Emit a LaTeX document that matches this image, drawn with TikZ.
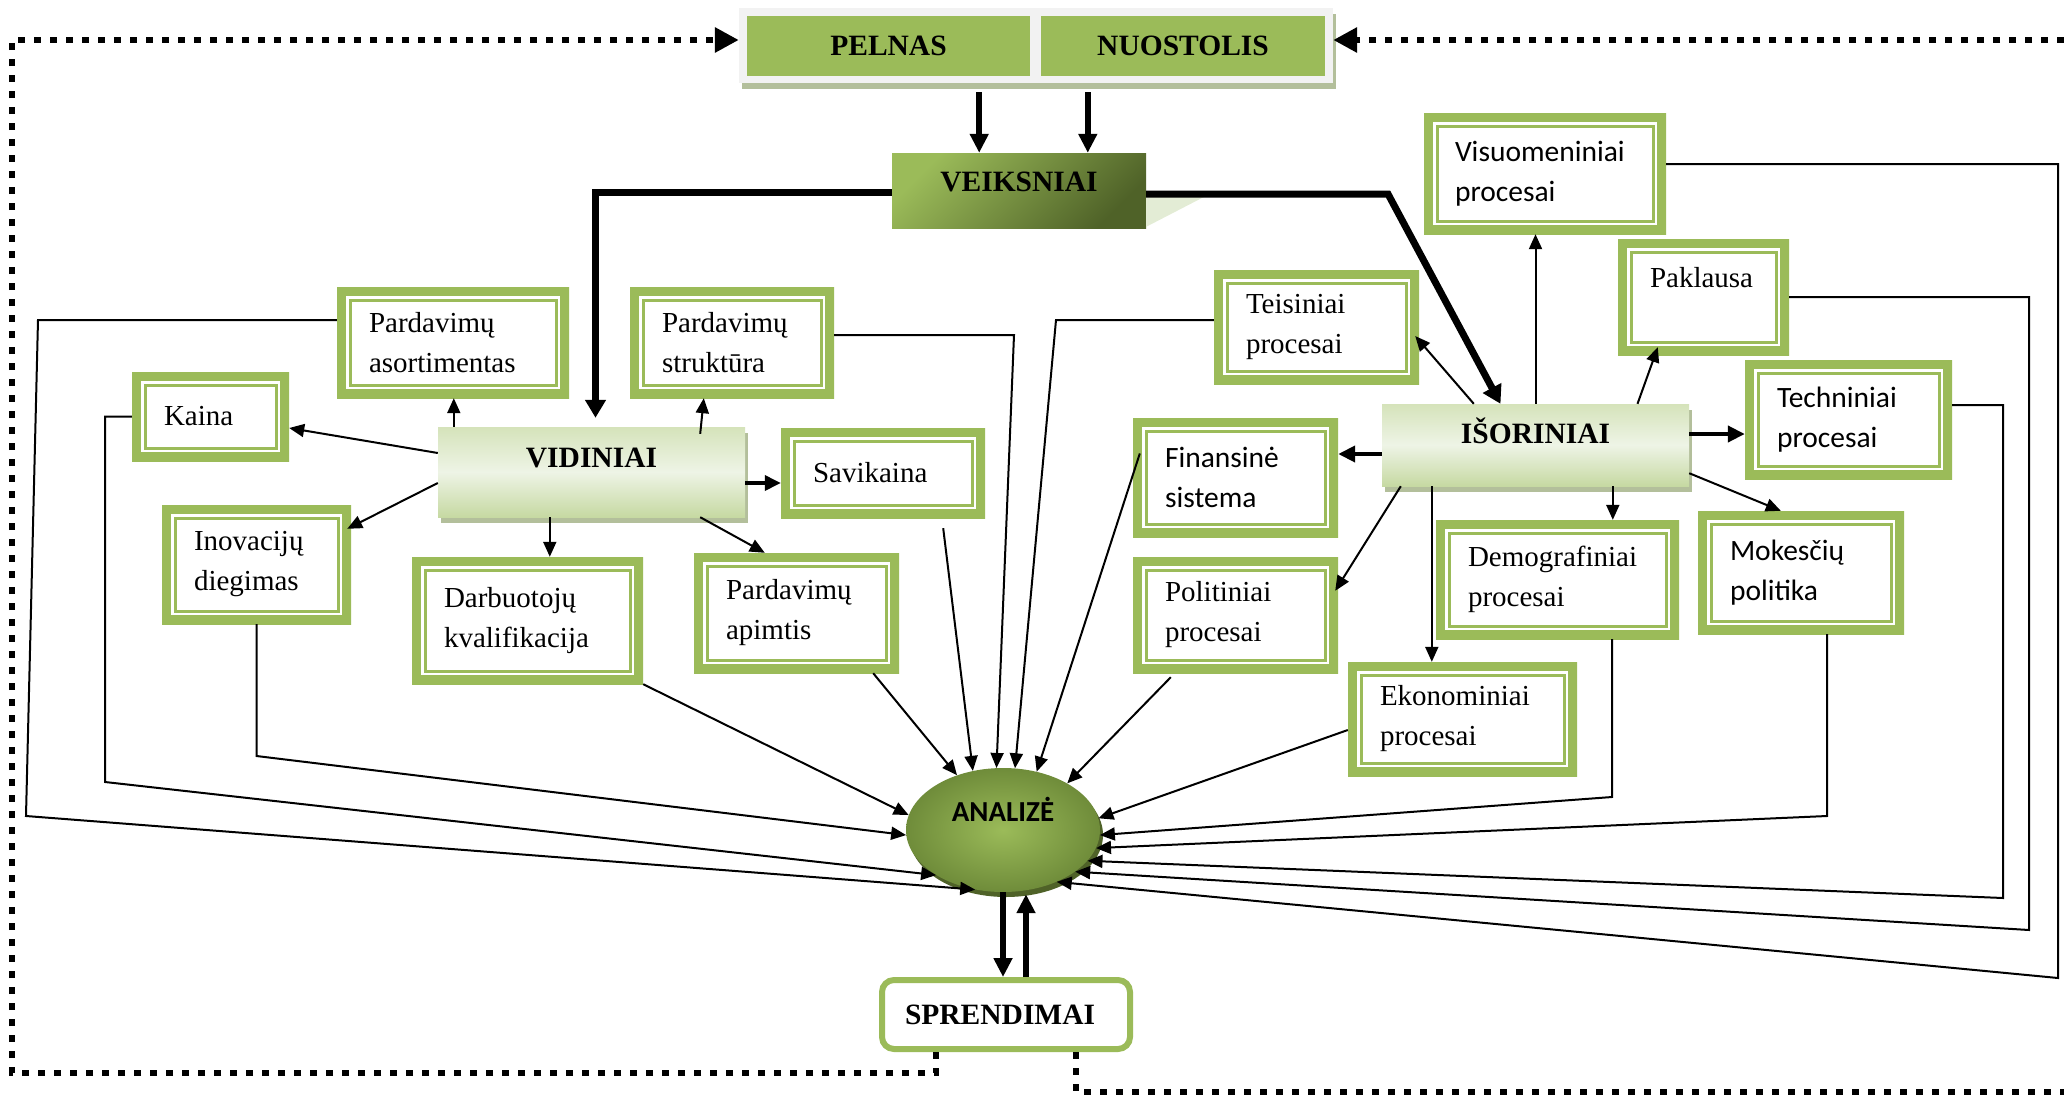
\documentclass[tikz,border=0pt]{standalone}
\usepackage{fontspec}
\setmainfont{Liberation Serif}
\newfontfamily\carl{Carlito}
\usetikzlibrary{arrows.meta,calc,shapes.geometric,shadows}

\definecolor{gA}{HTML}{9BBB59}
\definecolor{gDark}{HTML}{4F6228}
\definecolor{gMid}{HTML}{76923C}
\definecolor{frameGray}{HTML}{F2F2F2}
\definecolor{shadowG}{HTML}{B3BF9B}
\definecolor{paleG}{HTML}{E3ECD5}
\definecolor{lbTop}{HTML}{D5E3BA}
\definecolor{lbBot}{HTML}{C6D9A2}
\definecolor{lbMid}{HTML}{EEF4E6}
\definecolor{anOut}{HTML}{6F8C3A}

\tikzset{
  gbox/.style n args={3}{rectangle, minimum width=#1pt, minimum height=#2pt,
    text width=#3pt, inner sep=0pt, align=left, fill=white,
    font=\fontsize{29}{40}\selectfont,
    path picture={
      \draw[gA, line width=18pt] (path picture bounding box.south west) rectangle (path picture bounding box.north east);
      \draw[gA, line width=3pt] ([shift={(13pt,13pt)}]path picture bounding box.south west) rectangle ([shift={(-13pt,-13pt)}]path picture bounding box.north east);
    }},
  sansfont/.style={font=\carl\fontsize{29.5}{40}\selectfont},
  ttl/.style={font=\bfseries\fontsize{29.5}{34}\selectfont},
  lightbox/.style={rectangle, inner sep=0pt, minimum width=307pt,
    top color=lbTop, bottom color=lbBot, middle color=lbMid,
    drop shadow={shadow xshift=3pt, shadow yshift=-6pt, fill=shadowG, opacity=1},
    ttl, text height=20pt},
  carr/.style={line width=2pt, -{Triangle[length=15pt,width=13pt]}},
  marr3/.style={line width=3.5pt, -{Triangle[length=16pt,width=15pt]}},
  marr4/.style={line width=4pt, -{Triangle[length=17pt,width=16pt]}},
  parr/.style={line width=6pt, -{Triangle[length=19pt,width=18pt]}},
  harr/.style={line width=7pt, -{Triangle[length=18pt,width=20pt]}},
  dotarr/.style={line width=6.5pt, dash pattern=on 7pt off 9pt, -{Triangle[length=24pt,width=24pt]}},
}

\begin{document}
\begin{tikzpicture}[x=1pt,y=-1pt]
\useasboundingbox (0,0) rectangle (2064,1095);
\clip (0,0) rectangle (2064,1095);

% top frame
\node[fill=frameGray, minimum width=594pt, minimum height=75pt, inner sep=0pt,
  drop shadow={shadow xshift=3pt, shadow yshift=-6pt, fill=shadowG, opacity=1}] (pf) at (1036,45.5) {};
\node[fill=gA, minimum width=283pt, minimum height=60pt, inner sep=0pt, ttl] (pel) at (888.5,46) {PELNAS};
\node[fill=gA, minimum width=284pt, minimum height=60pt, inner sep=0pt, ttl] (nuo) at (1183,46) {NUOSTOLIS};

% VEIKSNIAI
\node[rectangle, inner sep=0pt, minimum width=254pt, minimum height=75pt,
  top color=gA, bottom color=gDark, shading angle=45,
  ttl, text height=20pt, text depth=18pt] (vei) at (1019,190.5) {VEIKSNIAI};
\fill[paleG] ($(vei.north east)+(0,44)$) -- ++(58,0) -- ($(vei.north east)+(0,74)$) -- cycle;

% gradient boxes
\node[lightbox, minimum height=90pt, text depth=30pt] (vid) at (591.5,472) {VIDINIAI};
\node[lightbox, minimum height=82pt, text depth=23pt] (iso) at (1535.5,445) {IŠORINIAI};

% factor boxes
\node[gbox={232}{111}{168}] (as) at (453,342.5) {Pardavimų\\asortimentas};
\node[gbox={157}{89}{93}] (ka) at (210.5,416.5) {Kaina};
\node[gbox={189}{119}{125}] (inov) at (256.5,564.5) {Inovacijų\\diegimas};
\node[gbox={231}{127}{167}] (da) at (527.5,620.5) {Darbuotojų\\kvalifikacija};
\node[gbox={205}{120}{141}] (ap) at (796.5,613) {Pardavimų\\apimtis};
\node[gbox={204}{111}{140}] (st) at (732,342.5) {Pardavimų\\struktūra};
\node[gbox={204}{90}{140}] (sav) at (883,473) {Savikaina};
\node[gbox={242}{121}{180}, sansfont] (vis) at (1545,173.5) {Visuomeniniai\\procesai};
\node[gbox={171}{116}{107}] (pak) at (1703.5,297) {Paklausa\\\mbox{}};
\node[gbox={205}{114}{141}] (te) at (1316.5,327) {Teisiniai\\procesai};
\node[gbox={207}{119}{143}, sansfont] (tech) at (1848.5,419.5) {Techniniai\\procesai};
\node[gbox={205}{119}{141}, sansfont] (fin) at (1235.5,477.5) {Finansinė\\sistema};
\node[gbox={205}{116}{141}] (pol) at (1235.5,615) {Politiniai\\procesai};
\node[gbox={243}{119}{179}] (dem) at (1557.5,579.5) {Demografiniai\\procesai};
\node[gbox={206}{123}{142}, sansfont] (mok) at (1801,572.5) {Mokesčių\\politika};
\node[gbox={229}{114}{165}] (ek) at (1462.5,719) {Ekonominiai\\procesai};

% ANALIZE
\node[ellipse, inner sep=0pt, minimum width=194pt, minimum height=124pt,
  shading=radial, inner color=gA, outer color=anOut,
  drop shadow={shadow xshift=3pt, shadow yshift=-5pt, fill=gDark, opacity=1},
  font=\carl\bfseries\fontsize{29}{32}\selectfont, text height=21pt, text depth=38pt] (an) at (1003,830) {ANALIZĖ\hspace{20pt}};

% SPRENDIMAI
\node[rectangle, rounded corners=12pt, draw=gA, line width=6pt, fill=white,
  minimum width=248pt, minimum height=69pt, inner sep=0pt, text width=202pt, align=left,
  ttl] (spr) at (1006,1014.5) {SPRENDIMAI};

% PELNAS / NUOSTOLIS -> VEIKSNIAI
\coordinate (pa) at ($(pel.south east)+(-51,16)$);
\coordinate (na) at ($(nuo.south west)+(47,16)$);
\draw[parr] (pa) -- (pa |- vei.north);
\draw[parr] (na) -- (na |- vei.north);

% VEIKSNIAI -> VIDINIAI / ISORINIAI
\draw[harr, shorten >=9pt] ([yshift=-2pt]vei.west) -| ([xshift=4pt]vid.north);
\coordinate (k1) at (1388,194);
\draw[harr] (vei.east |- k1) -- (k1) -- ($(iso.north)+(-35,0)$);

% VIDINIAI arrows
\draw[carr] ($(vid.west)+(0,-19)$) -- ($(ka.east)+(0,11.5)$);
\coordinate (v1) at ($(vid.north west)+(16,0)$);
\draw[carr] (v1) -- (v1 |- as.south);
\draw[carr] ($(vid.north east)+(-45,7)$) -- ($(st.south west)+(74,0)$);
\draw[carr] ($(vid.west)+(0,11)$) -- ($(inov.north east)+(-4,24)$);
\coordinate (v2) at ($(vid.south west)+(112,0)$);
\draw[carr] (v2) -- (v2 |- da.north);
\draw[carr] ($(vid.south east)+(-45,0)$) -- ($(ap.north west)+(71,0)$);
\coordinate (v3) at ($(vid.east)+(0,11)$);
\draw[marr3] (v3) -- (v3 -| sav.west);

% ISORINIAI arrows
\draw[carr] (iso.north) -- (iso.north |- vis.south);
\draw[carr] ($(iso.north)+(102,0)$) -- ($(pak.south west)+(40,-8)$);
\draw[carr] ($(iso.north west)+(92,0)$) -- ($(te.east)+(-4,9)$);
\coordinate (i1) at ($(iso.east)+(0,-11)$);
\draw[marr4] (i1) -- (i1 -| tech.west);
\coordinate (i2) at ($(iso.west)+(0,9)$);
\draw[marr4] (i2) -- (i2 -| fin.east);
\draw[carr] ($(iso.south west)+(19,0)$) -- ($(pol.north east)+(-3,34)$);
\coordinate (i3) at ($(iso.south west)+(50,0)$);
\draw[carr] (i3) -- (i3 |- ek.north);
\coordinate (i4) at ($(iso.south west)+(231,0)$);
\draw[carr] (i4) -- (i4 |- dem.north);
\draw[carr] ($(iso.south east)+(0,-13)$) -- ($(mok.north west)+(83,0)$);

% into ANALIZE - left side
\coordinate (ca1) at (38,320);
\coordinate (ca2) at (26,816);
\draw[carr] (ca1 -| as.west) -- (ca1) -- (ca2) -- (an.245);
\coordinate (cb) at (105,782);
\draw[carr] (ka.west) -- (ka.west -| cb) -- (cb) -- (an.214);
\coordinate (cc) at (256,756);
\draw[carr] (inov.south) -- (inov.south |- cc) -- (an.183);
\draw[carr] (da.south east) -- (an.171);
\draw[carr] ($(ap.south east)+(-26,0)$) -- (an.130);
\draw[carr] ($(sav.south east)+(-42,10)$) -- (an.117);
\coordinate (cs) at (1014,335);
\draw[carr] (cs -| st.east) -- (cs) -- (an.96);
% right side
\coordinate (ct) at (1056,320);
\draw[carr] (ct -| te.west) -- (ct) -- (an.79);
\draw[carr] ($(fin.west)+(7,-24)$) -- (an.60);
\draw[carr] ($(pol.south west)+(38,4)$) -- (an.36);
\draw[carr] ($(ek.west)+(0,11)$) -- (an.7);
\coordinate (cd) at (1612,797);
\draw[carr] (cd |- dem.south) -- (cd) -- (an.357);
\coordinate (cm) at (1827,816);
\draw[carr] (cm |- mok.south) -- (cm) -- (an.349);
\coordinate (ctc1) at (2003,405);
\coordinate (ctc2) at (2003,898);
\draw[carr] (ctc1 -| tech.east) -- (ctc1) -- (ctc2) -- (an.340);
\coordinate (cp) at (2029,930);
\draw[carr] (pak.east) -- (pak.east -| cp) -- (cp) -- (an.330);
\coordinate (cv1) at (2058,164);
\coordinate (cv2) at (2058,978);
\draw[carr] (cv1 -| vis.east) -- (cv1) -- (cv2) -- (an.316);

% ANALIZE <-> SPRENDIMAI
\draw[parr] (an.south) -- (an.south |- spr.north);
\coordinate (su) at ($(spr.north)+(20,0)$);
\draw[parr, shorten >=2pt] (su) -- (su |- an.south);

% dotted feedback loops
\coordinate (dl1) at (12,1073);
\coordinate (dl2) at (12,40);
\coordinate (dr1) at (2080,1092);
\coordinate (dr2) at (2080,40);
\draw[dotarr] ($(spr.south west)+(57,0)$) |- (dl1) -- (dl2) -- (pf.west |- dl2);
\draw[dotarr] ($(spr.south west)+(197,0)$) |- (dr1) -- (dr2) -- (pf.east |- dr2);
\end{tikzpicture}
\end{document}
